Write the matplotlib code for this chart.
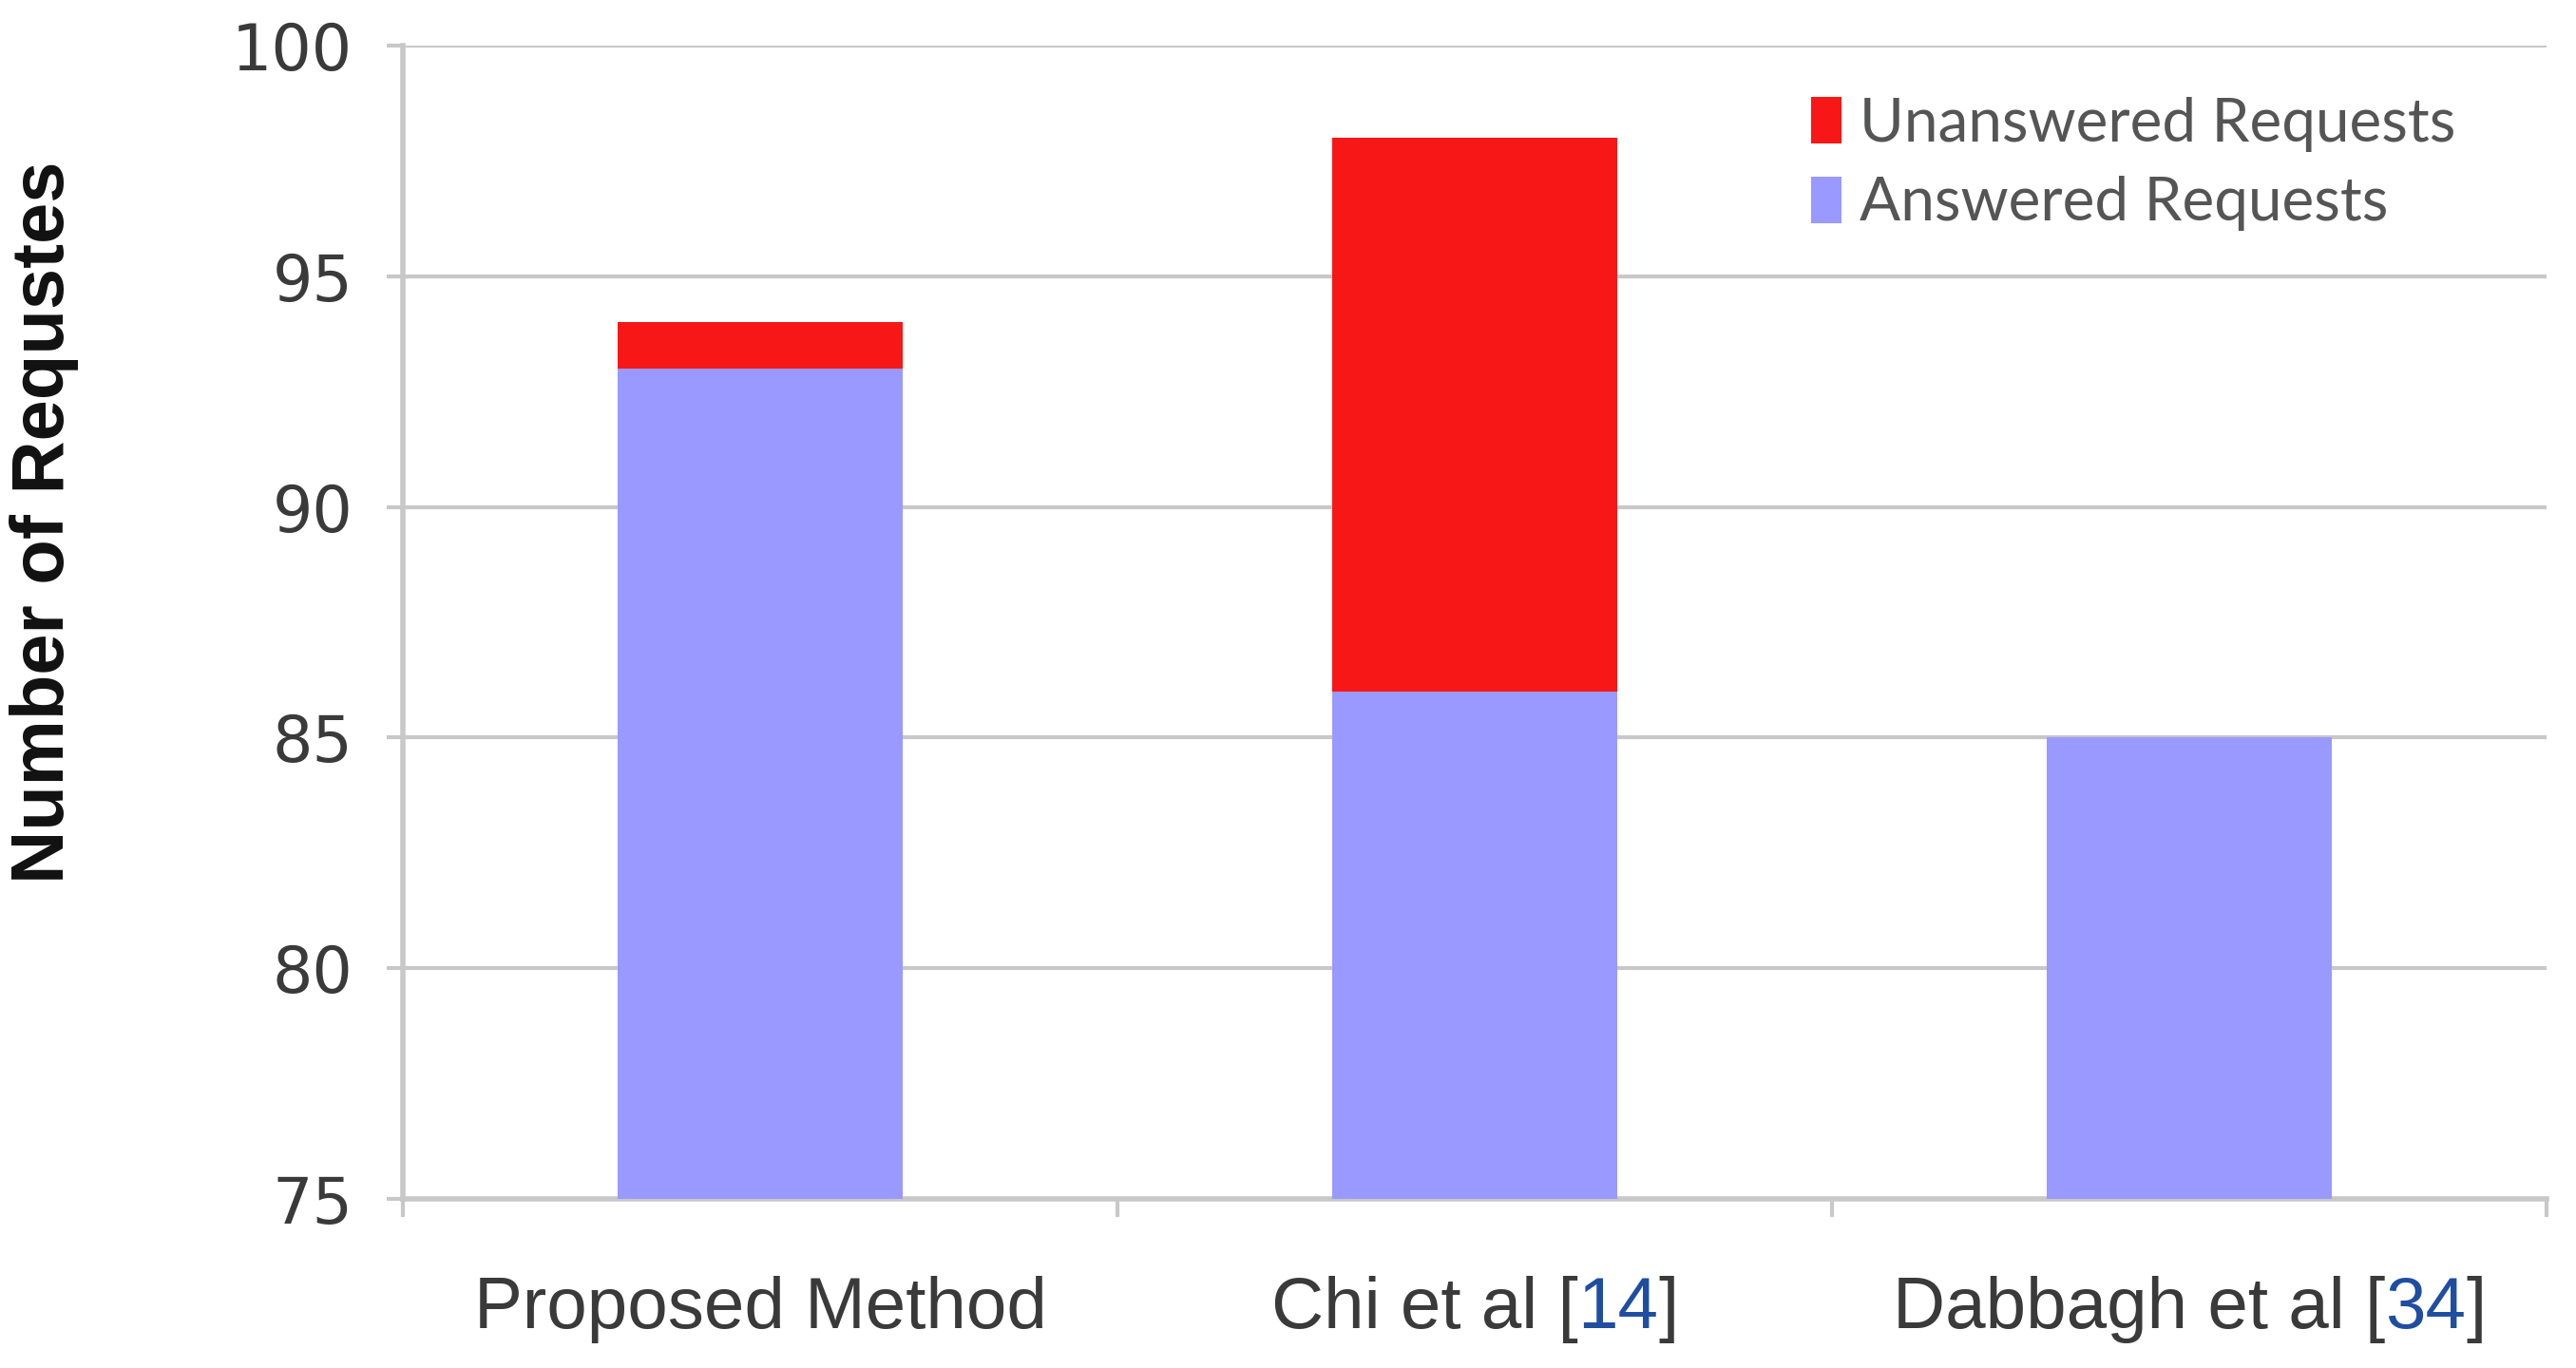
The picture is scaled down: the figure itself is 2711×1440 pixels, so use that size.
import matplotlib
matplotlib.use("Agg")
import matplotlib.pyplot as plt
from matplotlib.offsetbox import TextArea, HPacker, AnnotationBbox
import matplotlib.transforms as mtransforms

# Data
categories = ["Proposed Method", "Chi et al [14]", "Dabbagh et al [34]"]
label_parts = [("Proposed Method", "", ""), ("Chi et al [", "14", "]"), ("Dabbagh et al [", "34", "]")]
answered = [93, 86, 85]
unanswered = [1, 12, 0]
series_names = ["Unanswered Requests", "Answered Requests"]
yticks = [75, 80, 85, 90, 95, 100]

blue = "#9999FF"
red = "#F71717"
grid_c = "#C8C8C8"
text_c = "#3a3a3a"

fig = plt.figure(figsize=(27.11, 14.4), dpi=100)
ax = fig.add_axes([0.1564, 0.1236, 0.8322, 0.8431])

x = list(range(len(categories)))
b_ans = ax.bar(x, answered, width=0.4, bottom=0, color=blue, zorder=3, label=series_names[1])
b_un = ax.bar(x, unanswered, width=0.4, bottom=answered, color=red, zorder=3, label=series_names[0])

ax.set_ylim(75, 100)
ax.set_xlim(-0.5, len(categories) - 0.5)
ax.set_yticks(yticks)
ax.set_yticklabels([str(v) for v in yticks], fontfamily="DejaVu Sans", fontsize=48, color=text_c)
ax.yaxis.grid(True, color=grid_c, linewidth=3, zorder=0)
ax.set_axisbelow(True)

for s in ["top", "right"]:
    ax.spines[s].set_visible(False)
ax.spines["left"].set_color(grid_c)
ax.spines["left"].set_linewidth(4)
ax.spines["bottom"].set_color(grid_c)
ax.spines["bottom"].set_linewidth(4)
ax.tick_params(axis="y", length=12, width=3, color=grid_c, pad=26)
# x ticks at category boundaries
ax.set_xticks([-0.5, 0.5, 1.5, 2.5])
ax.set_xticklabels([])
ax.tick_params(axis="x", length=14, width=3, color=grid_c)

# x labels with coloured reference numbers
trans = mtransforms.blended_transform_factory(ax.transData, ax.transAxes)
for i, (a, num, c) in enumerate(label_parts):
    props = dict(fontfamily="Liberation Sans", fontsize=55, color=text_c)
    children = [TextArea(a, textprops=props)]
    if num:
        children.append(TextArea(num, textprops=dict(props, color="#1f4ea0")))
        children.append(TextArea(c, textprops=props))
    box = HPacker(children=children, pad=0, sep=0, align="baseline")
    ab = AnnotationBbox(box, (i, 0), xycoords=trans, xybox=(0, -58), boxcoords="offset points",
                        box_alignment=(0.5, 1.0), frameon=False, annotation_clip=False)
    ax.add_artist(ab)

ax.set_ylabel("Number of Requstes", fontfamily="Liberation Sans", fontsize=56,
              fontweight="bold", color="#111111")
ax.yaxis.set_label_coords(-0.151, 0.587)

leg = ax.legend(handles=[b_un, b_ans], labels=series_names, loc="upper right",
                bbox_to_anchor=(0.983, 1.003), frameon=False,
                prop=dict(family="Lato", size=46), labelcolor="#555555",
                handlelength=0.5, handleheight=0.8, handletextpad=0.3, labelspacing=0.4)

fig.savefig("out.png", dpi=100, facecolor="white")
